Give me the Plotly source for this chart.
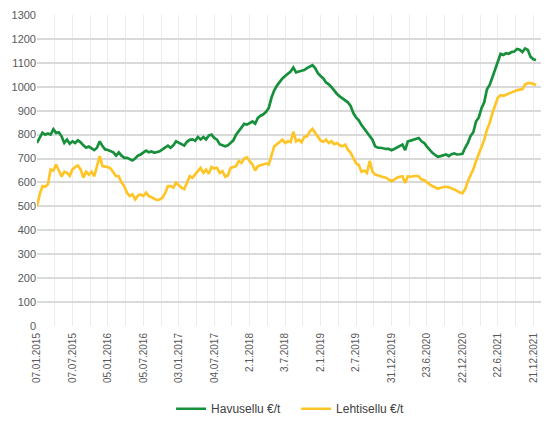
import pandas as pd
import plotly.graph_objects as go

# Biweekly readings starting 2015-01-07
havusellu = [
    765, 790, 808, 800, 805, 800, 822, 807, 810, 793,
    765, 779, 762, 772, 765, 776, 768, 755, 745, 750,
    742, 735, 745, 772, 752, 738, 736, 732, 726, 712,
    726, 712, 703, 703, 699, 692, 700, 712, 717, 727,
    733, 726, 730, 724, 726, 730, 738, 748, 754, 745,
    755, 772, 766, 762, 754, 770, 778, 780, 774, 790,
    780, 790, 780, 796, 800, 786, 779, 760, 754, 751,
    755, 765, 776, 800, 815, 828, 845, 842, 850, 855,
    846, 870, 879, 885, 895, 912, 955, 985, 1005, 1022,
    1035, 1045, 1055, 1064, 1080, 1060, 1064, 1068, 1070, 1078,
    1085, 1090, 1078, 1057, 1045, 1035, 1018, 1010, 998, 982,
    970, 960, 952, 946, 935, 920, 890, 872, 860, 840,
    825, 807, 795, 779, 751, 745, 745, 742, 740, 740,
    735, 740, 745, 752, 758, 735, 772, 775, 779, 782,
    786, 772, 765, 750, 735, 724, 715, 707, 710, 712,
    717, 710, 718, 721, 717, 718, 720, 745, 765, 795,
    810, 855, 872, 910, 935, 990, 1008, 1040, 1075, 1110,
    1138, 1133, 1140, 1138, 1145, 1147, 1158, 1155, 1145, 1160,
    1154, 1125, 1115, 1112,
]

lehtisellu = [
    501, 550, 585, 582, 592, 654, 650, 675, 650, 625,
    645, 640, 628, 654, 665, 671, 654, 620, 645, 632,
    645, 626, 668, 710, 668, 667, 664, 658, 640, 626,
    626, 600, 585, 557, 543, 550, 529, 545, 550, 543,
    557, 543, 538, 532, 526, 529, 536, 555, 585, 585,
    578, 599, 588, 578, 572, 599, 626, 620, 633, 650,
    661, 640, 654, 636, 665, 658, 661, 640, 647, 624,
    629, 661, 665, 668, 690, 682, 700, 705, 689, 675,
    650, 668, 672, 675, 679, 675, 710, 751, 760, 770,
    779, 765, 772, 769, 812, 772, 779, 768, 790, 793,
    812, 824, 807, 793, 775, 770, 779, 765, 772, 760,
    765, 755, 751, 758, 737, 725, 705, 680, 672, 645,
    650, 640, 690, 645, 633, 628, 626, 622, 620, 612,
    605, 612, 620, 624, 626, 598, 626, 624, 626, 628,
    625, 612, 610, 599, 592, 585, 580, 574, 578, 580,
    582, 580, 577, 571, 565, 558, 555, 571, 605, 630,
    655, 690, 720, 755, 778, 820, 849, 890, 925, 955,
    965, 962, 967, 972, 975, 980, 985, 988, 990, 1010,
    1015, 1015, 1012, 1008,
]

tick_labels = [
    "07.01.2015", "07.07.2015", "05.01.2016", "05.07.2016", "03.01.2017",
    "04.07.2017", "2.1.2018", "3.7.2018", "2.1.2019", "2.7.2019",
    "31.12.2019", "23.6.2020", "22.12.2020", "22.6.2021", "21.12.2021",
]

dates = pd.date_range("2015-01-07", periods=len(havusellu), freq="14D")
tick_dates = pd.date_range("2015-01-07", periods=len(tick_labels), freq="182D")

GREEN = "#17903C"
YELLOW = "#FFC526"
FONT = "Liberation Sans, Arial, sans-serif"

fig = go.Figure()
fig.add_trace(go.Scatter(x=dates, y=havusellu, mode="lines", name="Havusellu €/t",
                         line=dict(color=GREEN, width=2.7)))
fig.add_trace(go.Scatter(x=dates, y=lehtisellu, mode="lines", name="Lehtisellu €/t",
                         line=dict(color=YELLOW, width=2.7)))

# page body adds an 8px offset; figure sized to fill the rest of the window
fig.update_layout(
    width=541, height=418,
    margin=dict(l=29, r=4, t=7, b=99),
    paper_bgcolor="white", plot_bgcolor="white",
    font=dict(family=FONT, color="#595959"),
    showlegend=True,
    legend=dict(orientation="h", x=0.51, xanchor="center", y=-0.262, yanchor="middle",
                font=dict(size=12, color="#404040", family=FONT), entrywidth=80, itemwidth=30,
                bgcolor="rgba(0,0,0,0)"),
)
fig.update_xaxes(
    type="date", automargin=False,
    range=["2015-01-07", "2022-02-27"],
    tickmode="array", tickvals=tick_dates, ticktext=tick_labels,
    tickangle=-90, tickfont=dict(size=10, family=FONT, color="#595959"),
    ticklabelstandoff=4,
    showgrid=True, gridcolor="#ececec", gridwidth=1,
    minor=dict(tickmode="linear", tick0="2015-01-07", dtick=91 * 86400000,
               showgrid=True, gridcolor="#ececec", gridwidth=1),
    showline=False, zeroline=False, ticks="",
)
fig.update_yaxes(
    range=[0, 1300], dtick=100, automargin=False,
    tickfont=dict(size=11, color="#595959", family=FONT),
    showgrid=True, gridcolor="#d9d9d9", gridwidth=1.6,
    zeroline=False, showline=False, ticks="",
)

fig.write_html("out.html")
